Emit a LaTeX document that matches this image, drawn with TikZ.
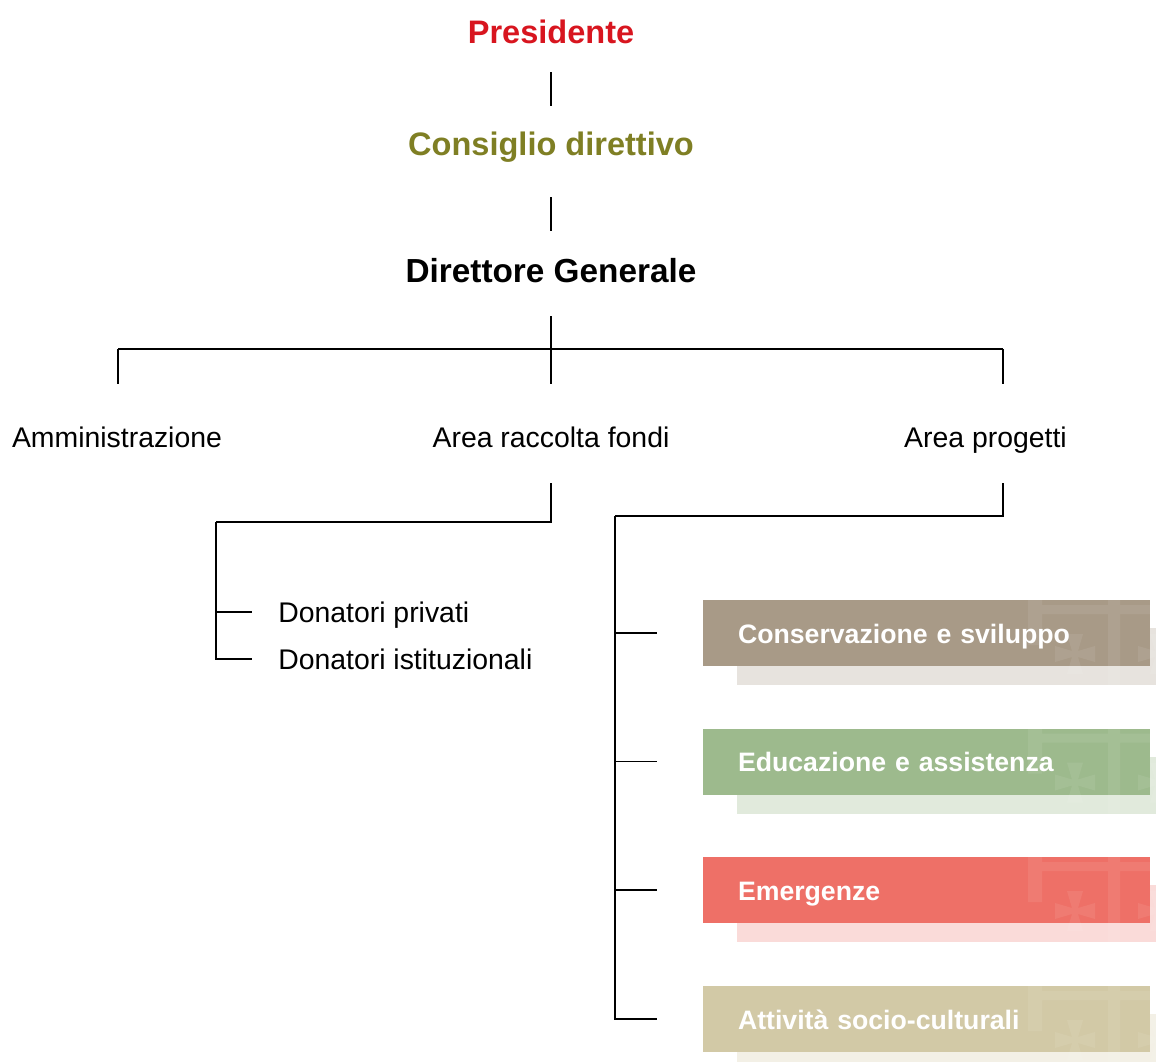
\documentclass[tikz,border=0pt]{standalone}
\usepackage{fontspec}
\setmainfont{Liberation Sans}
\definecolor{presred}{HTML}{D8151F}
\definecolor{olivec}{HTML}{7F7F24}
\definecolor{cA}{HTML}{A89A87}\definecolor{sA}{HTML}{E7E3DE}
\definecolor{cB}{HTML}{9DBA8D}\definecolor{sB}{HTML}{E1EADC}
\definecolor{cC}{HTML}{EE7067}\definecolor{sC}{HTML}{FADBD9}
\definecolor{cD}{HTML}{D2C9A6}\definecolor{sD}{HTML}{F3F0E6}
\tikzset{
  titlenode/.style={inner sep=0pt, text height=18pt, text depth=0pt, anchor=base, font=\fontsize{24.4}{28}\selectfont\bfseries},
  regnode/.style={inner sep=0pt, text height=15pt, text depth=0pt, font=\fontsize{21.3}{25}\selectfont},
  pbox/.style={rectangle, inner ysep=0pt, inner xsep=26.25pt, minimum height=49.5pt, text width=282.75pt, align=left, text height=17pt, text depth=2pt, text=white, font=\fontsize{20}{24}\selectfont\bfseries},
  conn/.style={line width=0.9pt, black},
}
\newcommand\projbox[5]{%
  \fill[#4] (737,#2-5) rectangle (1156,#2+52);
  \node[pbox, fill=#3] (#1) at (926.5,#2) {#5};
  \begin{scope}
    \clip (703,#2-33) rectangle (1150,#2+33) (737,#2-5) rectangle (1156,#2+52);
    \fill[white, opacity=.08]
      (1108,#2-53) rectangle (1120,#2+60)
      (1042,#2-28) rectangle (1170,#2-19)
      (1028,#2-53) rectangle (1042,#2+12)
      (1055,#2+13) -- (1055,#2+29) -- (1072,#2+24) -- (1067,#2+41) -- (1083,#2+41) -- (1078,#2+24) -- (1095,#2+29) -- (1095,#2+13) -- (1078,#2+18) -- (1083,#2+1) -- (1067,#2+1) -- (1072,#2+18) -- cycle
      (1138,#2+13) -- (1138,#2+29) -- (1155,#2+24) -- (1150,#2+41) -- (1166,#2+41) -- (1161,#2+24) -- (1178,#2+29) -- (1178,#2+13) -- (1161,#2+18) -- (1166,#2+1) -- (1150,#2+1) -- (1155,#2+18) -- cycle;
  \end{scope}
}
\begin{document}
\begin{tikzpicture}[x=0.75pt,y=-0.75pt]
\useasboundingbox[fill=white] (0,0) rectangle (1156,1062);

% top hierarchy
\node[titlenode, text=presred] (pres) at (551,44) {Presidente};
\node[titlenode, text=olivec] (cons) at (551,156) {Consiglio direttivo};
\node[titlenode, text=black, font=\fontsize{25}{29}\selectfont\bfseries] (dir) at (551,283) {Direttore Generale};

\draw[conn, shorten <=21pt, shorten >=19.5pt] (pres.south) -- (cons.north);
\draw[conn, shorten <=30.75pt, shorten >=21pt] (cons.south) -- (dir.north);

% level 2
\node[regnode, anchor=base] (amm) at (117,447) {Amministrazione};
\node[regnode, anchor=base] (ar) at (551,447) {Area raccolta fondi};
\node[regnode, anchor=base] (ap) at (985.5,447) {Area progetti};

\coordinate (hL) at (118,349);
\coordinate (hR) at (1003,349);
\draw[conn] (hL) -- (hR);
\draw[conn, shorten <=24.75pt, shorten >=32.25pt] (dir.south) -- (ar.north);
\draw[conn, shorten >=32.25pt] (hL) -- (hL |- amm.north);
\draw[conn, shorten >=32.25pt] (hR) -- (hR |- ap.north);

% fundraising subtree
\node[regnode, anchor=west] (dp) at (278,612) {Donatori privati};
\node[regnode, anchor=west] (di) at (278,659) {Donatori istituzionali};
\coordinate (rf) at (216,522);
\draw[conn, shorten <=27pt] (ar.south) |- (rf);
\draw[conn, shorten >=19.5pt] (rf) |- (dp.west);
\draw[conn, shorten >=19.5pt] (rf) |- (di.west);

% projects subtree
\projbox{bA}{633}{cA}{sA}{Conservazione e sviluppo}
\projbox{bB}{761.5}{cB}{sB}{Educazione e assistenza}
\projbox{bC}{890}{cC}{sC}{Emergenze}
\projbox{bD}{1019}{cD}{sD}{Attività socio-culturali}

\coordinate (pr) at (615,516);
\draw[conn, shorten <=27pt] (ap.south -| hR) |- (pr);
\draw[conn, shorten >=34.5pt] (pr) |- (bA.west);
\draw[conn, shorten >=34.5pt] (pr) |- (bB.west);
\draw[conn, shorten >=34.5pt] (pr) |- (bC.west);
\draw[conn, shorten >=34.5pt] (pr) |- (bD.west);
\end{tikzpicture}
\end{document}
